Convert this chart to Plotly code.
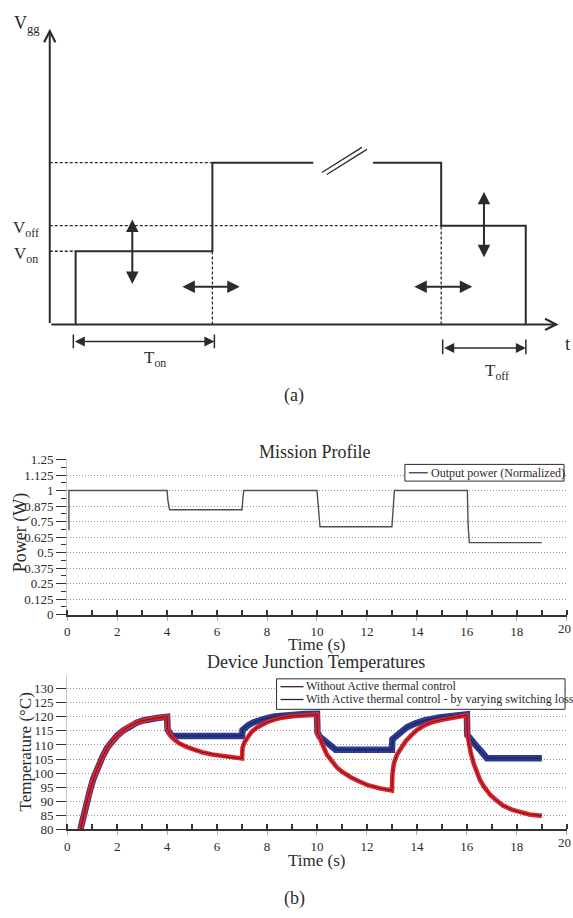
import plotly.graph_objects as go

W, H = 573, 918
FONT = "Liberation Serif"
INK = "#2b2b2b"

# ---------------- Panel (a): schematic gate-voltage profile (schematic units) ----------
V_on, V_off, V_high = 74.4, 100.4, 164.4
t_start, t_on_end, t_break0, t_break1, t_off_start, t_end = 26, 163.5, 265, 325, 393.5, 478.5
axis_top, axis_right = 300.7, 511.6
ton_span = [23.7, 165.5]
toff_span = [395, 478.6]

# ---------------- Mission profile -----------------------------------------------------
power_t = [0.07, 0.07, 4.0, 4.03, 4.1, 7.0, 7.03, 7.07, 10.0, 10.05, 10.12, 13.0, 13.05, 13.1, 16.02, 16.05, 16.1, 19.0]
power_p = [0.68, 1.0, 1.0, 0.92, 0.845, 0.845, 0.93, 1.0, 1.0, 0.85, 0.708, 0.708, 0.86, 1.0, 1.0, 0.72, 0.58, 0.58]
power_ticks = [0, 0.125, 0.25, 0.375, 0.5, 0.625, 0.75, 0.875, 1, 1.125, 1.25]
power_ticktext = ["0", "0.125", "0.25", "0.375", "0.5", "0.625", "0.75", "0.875", "1", "1.125", "1.25"]
time_ticks = [0, 2, 4, 6, 8, 10, 12, 14, 16, 18, 20]

# ---------------- Junction temperatures -----------------------------------------------
rise_t = [0.53, 0.63, 0.73, 0.83, 0.93, 1.05, 1.2, 1.4, 1.6, 1.8, 2.0, 2.25, 2.5, 2.8, 3.05, 3.3, 3.6, 4.0]
rise_T = [80, 84, 87.6, 91.3, 94.5, 98, 101.5, 105.5, 109, 111.5, 113.3, 115.2, 116.7, 118, 118.7, 119.2, 119.6, 120]

red_t = [4.02, 4.15, 4.3, 4.5, 4.8, 5.1, 5.4, 5.8, 6.2, 6.6, 7.0,
         7.02, 7.1, 7.25, 7.4, 7.6, 7.8, 8.0, 8.3, 8.6, 9.0, 9.5, 10.0,
         10.02, 10.1, 10.25, 10.4, 10.6, 10.8, 11.0, 11.35, 11.7, 12.0, 12.5, 13.0,
         13.02, 13.08, 13.2, 13.35, 13.55, 13.75, 14.0, 14.3, 14.6, 14.95, 15.3, 15.6, 16.0,
         16.02, 16.07, 16.15, 16.27, 16.4, 16.53, 16.7, 16.93, 17.2, 17.46, 17.8, 18.13, 18.5, 19.0]
red_T = [115.5, 113.3, 111.8, 110.5, 109.2, 108.2, 107.4, 106.6, 106, 105.5, 105.2,
         109, 111, 113, 114.8, 116.2, 117.3, 118.1, 119, 119.7, 120.2, 120.6, 120.8,
         114.5, 112.5, 109.5, 106.5, 104, 102, 100.5, 98.5, 97, 95.8, 94.6, 93.8,
         99.5, 103.5, 106.5, 108.8, 111.3, 113.2, 115.3, 117, 118.1, 118.9, 119.6, 120, 120.6,
         114, 111, 107.5, 103.5, 100.2, 97.5, 95, 92.3, 90.2, 88.4, 87, 86, 85.3, 84.8]

blue_t = [4.02, 4.1, 4.2, 5.0, 6.0, 7.0,
          7.02, 7.1, 7.25, 7.45, 7.65, 8.0, 8.3, 8.7, 9.0, 9.5, 10.0,
          10.02, 10.1, 10.3, 10.5, 10.75, 11.5, 12.3, 13.0,
          13.02, 13.2, 13.4, 13.6, 13.9, 14.3, 14.9, 15.4, 16.0,
          16.02, 16.1, 16.3, 16.55, 16.8, 17.5, 18.3, 19.0]
blue_T = [115.5, 114.3, 113.2, 113.2, 113.2, 113.2,
          115.3, 116.2, 117, 118, 118.7, 119.5, 120.1, 120.5, 120.8, 121, 121.1,
          114.5, 113, 111.5, 110, 108.3, 108.3, 108.3, 108.3,
          112, 113.5, 115, 116.3, 117.5, 118.7, 119.8, 120.4, 120.9,
          113.5, 112.5, 110.5, 108, 105.3, 105.3, 105.3, 105.3]
temp_ticks = [80, 85, 90, 95, 100, 105, 110, 115, 120, 125, 130]

legend_power = "Output power (Normalized)"
legend_red = "Without Active thermal control"
legend_blue = "With Active thermal control - by varying switching loss"


def pxx(x):
    return x / W


def pyy(y):
    return 1 - y / H


fig = go.Figure()

# ---------- panel (a) lines ----------
def dline(xs, ys, dash="solid", width=2.0, color=INK):
    fig.add_trace(go.Scatter(x=xs, y=ys, mode="lines", xaxis="x3", yaxis="y3",
                             line=dict(color=color, width=width, dash=dash),
                             hoverinfo="skip", showlegend=False))

dline([t_start, t_start, t_on_end, t_on_end, t_break0], [0, V_on, V_on, V_high, V_high])
dline([t_break1, t_off_start, t_off_start, t_end, t_end], [V_high, V_high, V_off, V_off, 0])
dash = "3px,2px"
dline([0, t_on_end], [V_high, V_high], dash=dash, width=1.3)
dline([0, t_off_start], [V_off, V_off], dash=dash, width=1.3)
dline([0, t_start], [V_on, V_on], dash=dash, width=1.3)
dline([t_on_end, t_on_end], [0, V_on], dash=dash, width=1.3)
dline([t_off_start, t_off_start], [0, V_off], dash=dash, width=1.3)
# break marks
dline([273.5, 313.8], [154.4, 180], width=1.3)
dline([278.5, 318.8], [152.4, 178], width=1.3)
# dimension bars
for tb in ton_span:
    dline([tb, tb], [-10.3, -24.3], width=1.5)
for tb in toff_span:
    dline([tb, tb], [-15.3, -30.3], width=1.5)

annotations = []


def arrow(x0, y0, x1, y1, both=True, head=2, size=1.25, width=2):
    d = dict(x=x1, y=y1, ax=x0, ay=y0, xref="x3", yref="y3", axref="x3", ayref="y3",
             showarrow=True, arrowhead=head, arrowsize=size, arrowwidth=width,
             arrowcolor=INK, text="", standoff=0)
    if both:
        d.update(arrowside="end+start", startarrowhead=head, startarrowsize=size, startstandoff=0)
    return d


# axes with open arrow heads
annotations.append(arrow(0, 0, 0, axis_top, both=False, head=5, size=1.1, width=2))
annotations.append(arrow(0, 0, axis_right, 0, both=False, head=5, size=1.1, width=2))
# adjustment arrows
annotations.append(arrow(83, 39.7, 83, 106.7))
annotations.append(arrow(131.8, 38.4, 191, 38.4))
annotations.append(arrow(365, 38.4, 424.8, 38.4))
annotations.append(arrow(436.5, 66.7, 436.5, 135))
annotations.append(arrow(ton_span[0], -17.3, ton_span[1], -17.3, width=1.6))
annotations.append(arrow(toff_span[0], -24, toff_span[1], -24, width=1.6))


def dtext(x, y, s, size=18, ref="x3"):
    return dict(x=x, y=y, xref=ref, yref="y3", text=s, showarrow=False,
                font=dict(family=FONT, size=size, color=INK), xanchor="center", yanchor="middle")


annotations.append(dtext(-23, 305, "V<sub>gg</sub>", 18))
annotations.append(dtext(-24, 97, "V<sub>off</sub>", 17))
annotations.append(dtext(-24, 71, "V<sub>on</sub>", 17))
annotations.append(dtext(521, -19, "t", 19))
annotations.append(dtext(106, -35, "T<sub>on</sub>", 17))
annotations.append(dtext(450, -48, "T<sub>off</sub>", 17))
annotations.append(dtext(246, -72.3, "(a)", 18))

# ---------- mission profile ----------
fig.add_trace(go.Scatter(x=power_t, y=power_p, mode="lines", xaxis="x", yaxis="y",
                         line=dict(color="#4a4f5e", width=1.4), name=legend_power,
                         showlegend=False))

# ---------- temperatures (blue under red) ----------
fig.add_trace(go.Scatter(x=rise_t + blue_t, y=rise_T + blue_T, mode="lines", xaxis="x2", yaxis="y2",
                         line=dict(color="#2c3a92", width=6.5), showlegend=False, hoverinfo="skip"))
fig.add_trace(go.Scatter(x=rise_t + blue_t, y=rise_T + blue_T, mode="lines", xaxis="x2", yaxis="y2",
                         line=dict(color="#1b1d4a", width=1), name=legend_blue, showlegend=False))
fig.add_trace(go.Scatter(x=rise_t + red_t, y=rise_T + red_T, mode="lines", xaxis="x2", yaxis="y2",
                         line=dict(color="#e2232c", width=4.6), showlegend=False, hoverinfo="skip"))
fig.add_trace(go.Scatter(x=rise_t + red_t, y=rise_T + red_T, mode="lines", xaxis="x2", yaxis="y2",
                         line=dict(color="#5e1a20", width=1), name=legend_red, showlegend=False))

# ---------- text for panel (b) ----------
def ptext(x, y, s, size=17, angle=0, xanchor="center"):
    return dict(x=pxx(x), y=pyy(y), xref="paper", yref="paper", text=s, showarrow=False,
                textangle=angle, font=dict(family=FONT, size=size, color=INK),
                xanchor=xanchor, yanchor="middle")


annotations.append(ptext(314, 452, "Mission Profile", 18))
annotations.append(ptext(315, 648, "Time (s)", 17))
annotations.append(ptext(17, 534, "Power (W)", 18, angle=-90))
annotations.append(ptext(315, 666, "Device Junction Temperatures", 18))
annotations.append(ptext(23, 757, "Temperature (°C)", 17, angle=-90))
annotations.append(ptext(315, 868, "Time (s)", 17))
annotations.append(ptext(293, 906, "(b)", 18))

# last time label placed at the right edge (the axis hides it because it touches the page edge)
for ax_name in ("x", "x2"):
    annotations.append(dict(x=20, y=0, xref=ax_name, yref=("y" if ax_name == "x" else "y2") + " domain",
                            text=str(time_ticks[-1]), showarrow=False, xanchor="right", yanchor="top",
                            xshift=6, yshift=-4, font=dict(family=FONT, size=13, color=INK)))

# manual legends
shapes = []
shapes.append(dict(type="rect", xref="paper", yref="paper", x0=pxx(404), x1=pxx(564),
                   y0=pyy(482), y1=pyy(465), line=dict(color=INK, width=1), fillcolor="white"))
shapes.append(dict(type="line", xref="paper", yref="paper", x0=pxx(408), x1=pxx(427),
                   y0=pyy(473.5), y1=pyy(473.5), line=dict(color="#3a3d48", width=1.3)))
annotations.append(ptext(428, 473.5, legend_power, 12, xanchor="left"))

shapes.append(dict(type="rect", xref="paper", yref="paper", x0=pxx(275), x1=pxx(565),
                   y0=pyy(714), y1=pyy(683), line=dict(color=INK, width=1), fillcolor="white"))
shapes.append(dict(type="line", xref="paper", yref="paper", x0=pxx(279), x1=pxx(302),
                   y0=pyy(691), y1=pyy(691), line=dict(color="#3c1f22", width=1.3)))
shapes.append(dict(type="line", xref="paper", yref="paper", x0=pxx(279), x1=pxx(302),
                   y0=pyy(704), y1=pyy(704), line=dict(color="#1f2346", width=1.3)))
annotations.append(ptext(303, 690.5, legend_red, 12, xanchor="left"))
annotations.append(ptext(303, 703.5, legend_blue, 12, xanchor="left"))

xdom = [pxx(64.5), pxx(567)]
tickfont = dict(family=FONT, size=13, color=INK)
GRID = "#9a9a9a"
xaxis_common = dict(domain=xdom, range=[-0.001, 20.01], tickvals=time_ticks, ticks="outside", ticklen=4,
                    tickcolor="#b0b0b0", tickwidth=1, showline=True, linecolor="#333", linewidth=2,
                    showgrid=False, zeroline=False, tickfont=tickfont, fixedrange=True,
                    minor=dict(dtick=1, tick0=0, ticks="inside", ticklen=5, tickcolor="#333", tickwidth=1.5,
                               showgrid=False))
fig.update_layout(
    width=W, height=H, margin=dict(l=0, r=0, t=0, b=0),
    paper_bgcolor="white", plot_bgcolor="white", showlegend=False,
    xaxis=dict(anchor="y", **xaxis_common),
    yaxis=dict(anchor="x", domain=[pyy(617.7), pyy(460)], range=[0, 1.2501],
               tickvals=power_ticks, ticktext=power_ticktext, ticks="outside", ticklen=10,
               tickcolor="#333", showline=True, linecolor="#c8c8c8", linewidth=1,
               showgrid=True, gridcolor=GRID, griddash="1px,2px", gridwidth=1, zeroline=False,
               tickfont=tickfont, fixedrange=True,
               minor=dict(dtick=0.0625, ticks="outside", ticklen=5, tickcolor="#333", showgrid=False)),
    xaxis2=dict(anchor="y2", **xaxis_common),
    yaxis2=dict(anchor="x2", domain=[pyy(836), pyy(678.7)], range=[80, 135],
                tickvals=temp_ticks, ticks="outside", ticklen=10, tickcolor="#333",
                showline=True, linecolor="#c8c8c8", linewidth=1,
                showgrid=True, gridcolor=GRID, griddash="1px,2px", gridwidth=1, zeroline=False,
                tickfont=tickfont, fixedrange=True),
    xaxis3=dict(anchor="y3", domain=[0, 1], range=[-47, 526], visible=False, fixedrange=True),
    yaxis3=dict(anchor="x3", domain=[pyy(410), 1], range=[-87.3, 322.7], visible=False, fixedrange=True),
    annotations=annotations, shapes=shapes,
)

fig.write_html("out.html")
